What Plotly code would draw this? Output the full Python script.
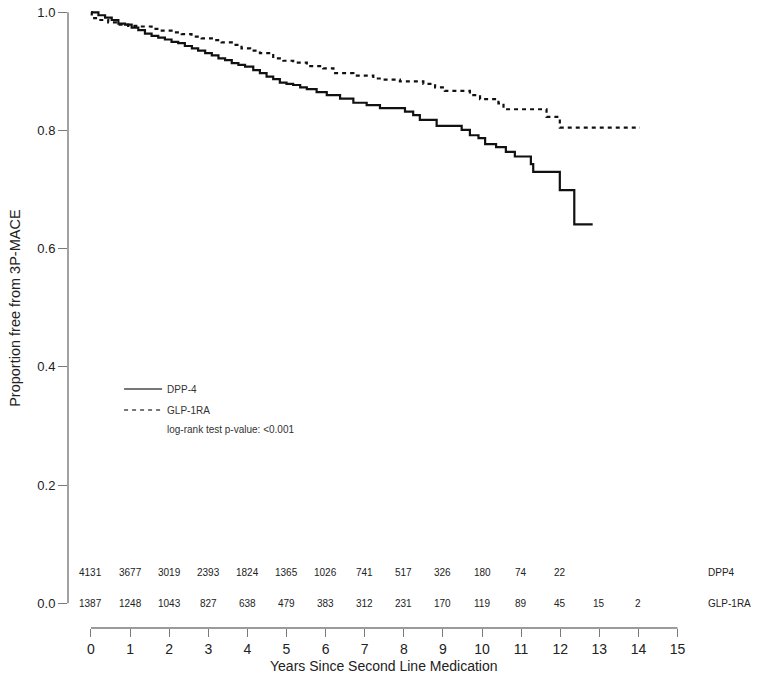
import plotly.graph_objects as go

# ---- data ----
dpp4_time = [0, 0.19, 0.36, 0.53, 0.70, 0.87, 1.04, 1.21, 1.38, 1.55, 1.72, 1.89, 2.06, 2.23,
             2.40, 2.58, 2.74, 2.92, 3.09, 3.26, 3.43, 3.60, 3.77, 3.94, 4.15, 4.32, 4.49,
             4.66, 4.83, 5.00, 5.17, 5.35, 5.52, 5.77, 6.03, 6.37, 6.71, 7.05, 7.39, 8.03,
             8.24, 8.41, 8.84, 9.48, 9.69, 9.91, 10.08, 10.36, 10.61, 10.84, 11.25, 11.31,
             11.99, 12.36, 12.83]
dpp4_surv = [1.0, 0.995, 0.991, 0.987, 0.981, 0.979, 0.974, 0.970, 0.964, 0.960, 0.957, 0.954,
             0.950, 0.948, 0.943, 0.939, 0.935, 0.931, 0.927, 0.922, 0.919, 0.914, 0.911, 0.908,
             0.902, 0.897, 0.891, 0.887, 0.881, 0.879, 0.877, 0.873, 0.870, 0.865, 0.860, 0.854,
             0.847, 0.843, 0.838, 0.832, 0.826, 0.818, 0.808, 0.801, 0.792, 0.787, 0.777, 0.772,
             0.764, 0.756, 0.743, 0.730, 0.699, 0.641, 0.641]

glp_time = [0, 0.02, 0.19, 0.44, 0.69, 0.95, 1.20, 1.55, 1.81, 2.06, 2.32, 2.57, 2.83, 3.09,
            3.34, 3.60, 3.85, 4.07, 4.32, 4.66, 4.92, 5.17, 5.52, 5.94, 6.20, 6.71, 7.22, 7.48,
            7.90, 8.50, 8.80, 9.05, 9.69, 9.95, 10.42, 10.55, 11.65, 11.99, 14.04]
glp_surv = [1.0, 0.990, 0.987, 0.983, 0.979, 0.977, 0.976, 0.972, 0.969, 0.966, 0.963, 0.959,
            0.956, 0.953, 0.949, 0.945, 0.939, 0.935, 0.931, 0.922, 0.918, 0.915, 0.909, 0.905,
            0.897, 0.893, 0.888, 0.886, 0.883, 0.879, 0.873, 0.867, 0.860, 0.853, 0.846, 0.836,
            0.823, 0.805, 0.805]

risk_years_dpp4 = list(range(0, 13))
risk_dpp4 = [4131, 3677, 3019, 2393, 1824, 1365, 1026, 741, 517, 326, 180, 74, 22]
risk_years_glp = list(range(0, 15))
risk_glp = [1387, 1248, 1043, 827, 638, 479, 383, 312, 231, 170, 119, 89, 45, 15, 2]

x_ticks = list(range(0, 16))
y_ticks = [0.0, 0.2, 0.4, 0.6, 0.8, 1.0]
y_tick_text = ["0.0", "0.2", "0.4", "0.6", "0.8", "1.0"]

FONT = "Liberation Sans, Arial, Helvetica, sans-serif"
AXIS_COL = "#7a7a7a"

fig = go.Figure()

fig.add_trace(go.Scatter(x=dpp4_time, y=dpp4_surv, mode="lines", line_shape="hv",
                         line=dict(color="#111111", width=2.2), showlegend=False,
                         hoverinfo="skip"))
fig.add_trace(go.Scatter(x=glp_time, y=glp_surv, mode="lines", line_shape="hv",
                         line=dict(color="#111111", width=2.2, dash="4px,4px"),
                         showlegend=False, hoverinfo="skip"))

# legend keys (grey, as in the reference)
fig.add_trace(go.Scatter(x=[None], y=[None], mode="lines", name="DPP-4", legendgroup="a",
                         line=dict(color="#777777", width=2)))
fig.add_trace(go.Scatter(x=[None], y=[None], mode="lines", name="GLP-1RA", legendgroup="b",
                         line=dict(color="#777777", width=2, dash="4px,4px")))

annotations = []
for yr, n in zip(risk_years_dpp4, risk_dpp4):
    annotations.append(dict(x=yr, y=0.0513, xref="x", yref="y", text=str(n), showarrow=False,
                            font=dict(size=10, color="#222", family=FONT),
                            xanchor="center", yanchor="middle"))
for yr, n in zip(risk_years_glp, risk_glp):
    annotations.append(dict(x=yr, y=0.0, xref="x", yref="y", text=str(n), showarrow=False,
                            font=dict(size=10, color="#222", family=FONT),
                            xanchor="center", yanchor="middle"))
annotations.append(dict(x=15.73, y=0.0513, xref="x", yref="y", text="DPP4", showarrow=False,
                        font=dict(size=10, color="#222", family=FONT), xanchor="left", yanchor="middle"))
annotations.append(dict(x=15.73, y=0.0, xref="x", yref="y", text="GLP-1RA", showarrow=False,
                        font=dict(size=10, color="#222", family=FONT), xanchor="left", yanchor="middle"))
annotations.append(dict(x=0.1443, y=0.322, xref="paper", yref="paper",
                        text="log-rank test p-value: <0.001", showarrow=False,
                        font=dict(size=10, color="#333", family=FONT), xanchor="left", yanchor="middle"))
# axis titles
annotations.append(dict(x=7.5, y=-0.0615, xref="x", yref="paper",
                        text="Years Since Second Line Medication", showarrow=False,
                        font=dict(size=14, color="#222", family=FONT), xanchor="center", yanchor="middle"))
annotations.append(dict(x=-0.0788, y=0.5, xref="paper", yref="y",
                        text="Proportion free from 3P-MACE", showarrow=False, textangle=-90,
                        font=dict(size=14.5, color="#222", family=FONT), xanchor="center", yanchor="middle"))

shapes = [
    dict(type="line", xref="paper", yref="y", x0=0, x1=0, y0=0, y1=1,
         line=dict(color=AXIS_COL, width=1.4)),
    dict(type="line", xref="x", yref="paper", x0=0, x1=15, y0=0, y1=0,
         line=dict(color=AXIS_COL, width=1.4)),
]

fig.update_layout(
    width=762, height=680,
    margin=dict(l=68, r=22, t=10, b=52),
    paper_bgcolor="white", plot_bgcolor="white",
    font=dict(family=FONT, color="#222"),
    showlegend=True,
    legend=dict(x=0.076, y=0.410, xanchor="left", yanchor="top",
                font=dict(size=10, color="#333", family=FONT),
                bgcolor="rgba(0,0,0,0)", borderwidth=0, itemwidth=38,
                tracegroupgap=2),
    annotations=annotations,
    shapes=shapes,
)
fig.update_xaxes(range=[-0.588, 16.598], tickvals=x_ticks, ticks="outside", ticklen=8,
                 tickwidth=1.4, tickcolor=AXIS_COL, showline=False, showgrid=False,
                 zeroline=False, automargin=False, ticklabelstandoff=0,
                 tickfont=dict(size=14, color="#222", family=FONT))
fig.update_yaxes(range=[-0.0418, 1.0039], tickvals=y_ticks, ticktext=y_tick_text,
                 ticks="outside", ticklen=9, tickwidth=1.4, tickcolor=AXIS_COL,
                 showline=False, showgrid=False, zeroline=False, automargin=False,
                 tickfont=dict(size=13, color="#222", family=FONT))

fig.write_html(
    "out.html",
    config={"displayModeBar": False},
    post_script="document.body.style.margin='0px';document.body.style.overflow='hidden';",
)
